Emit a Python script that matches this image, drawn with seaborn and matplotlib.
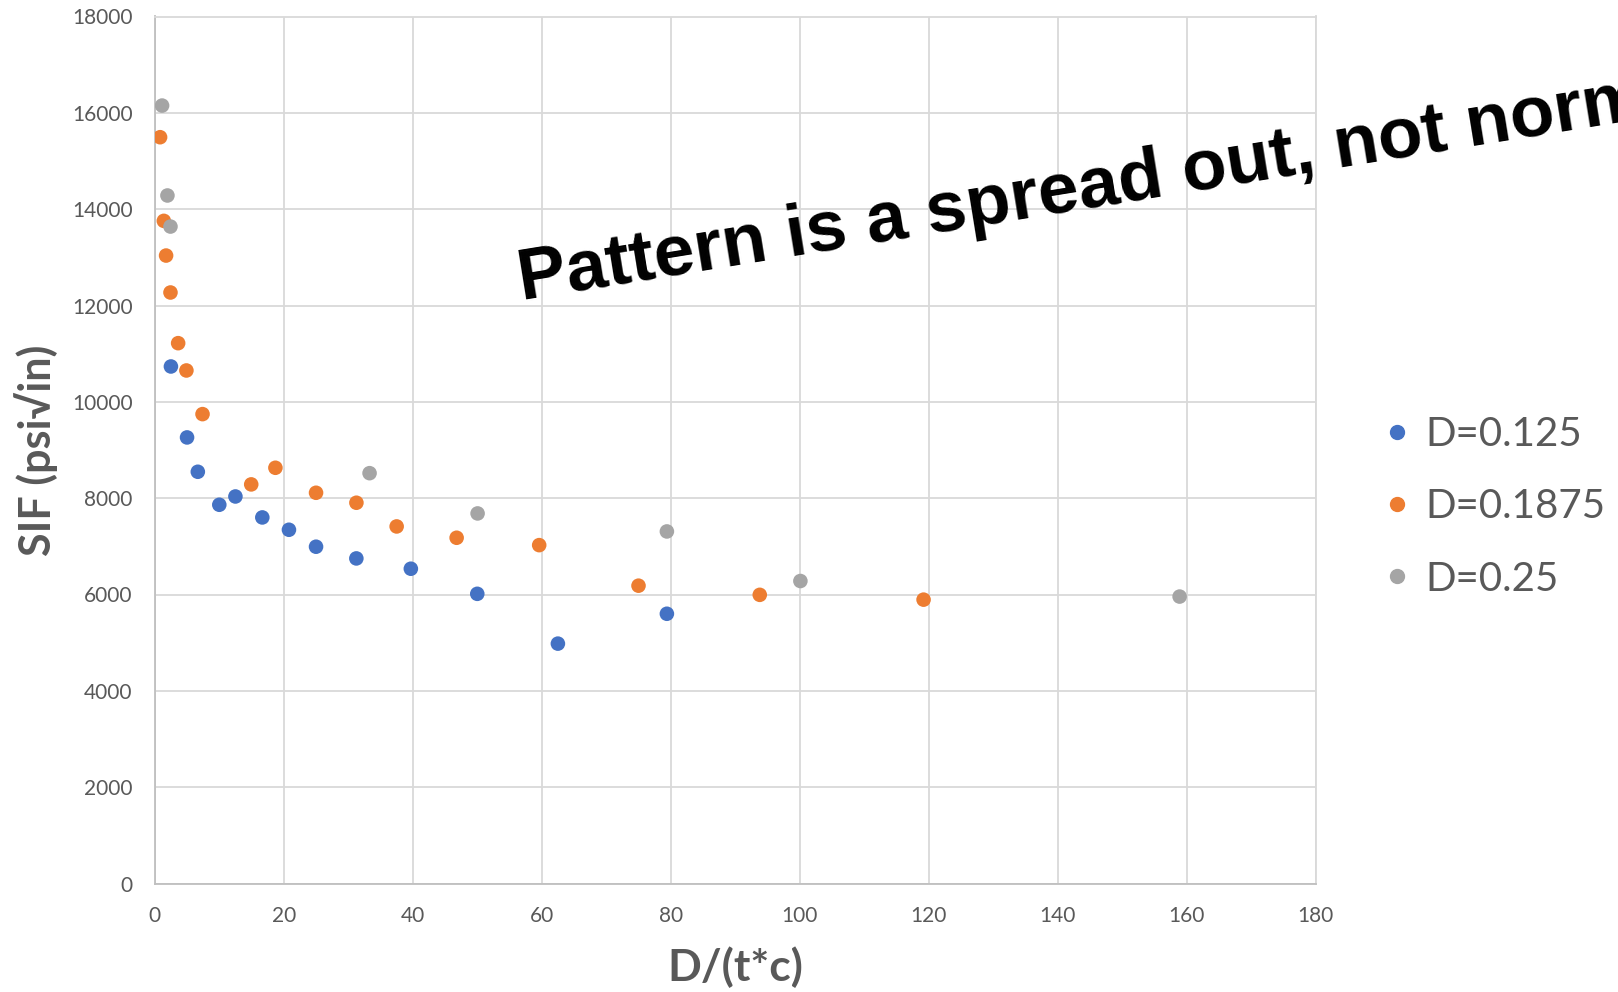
import matplotlib
matplotlib.use("Agg")
import matplotlib.pyplot as plt
import seaborn as sns
import pandas as pd

# D = 0.125
x_0125 = [2.5, 5.0, 6.67, 10.0, 12.5, 16.67, 20.8, 25.0, 31.25, 39.7, 50.0, 62.5, 79.4]
y_0125 = [10734, 9261, 8548, 7863, 8035, 7600, 7344, 6992, 6749, 6535, 6014, 4980, 5600]

# D = 0.1875
x_01875 = [0.82, 1.4, 1.75, 2.43, 3.62, 4.9, 7.4, 14.95, 18.7, 25.0, 31.26, 37.5, 46.8, 59.6, 75.0, 93.8, 119.2]
y_01875 = [15494, 13757, 13037, 12270, 11218, 10651, 9745, 8286, 8631, 8112, 7905, 7413, 7178, 7025, 6183, 5993, 5893]

# D = 0.25
x_025 = [1.13, 1.96, 2.43, 33.3, 50.05, 79.4, 100.1, 158.9]
y_025 = [16151, 14284, 13639, 8519, 7683, 7309, 6280, 5957]

series = ["D=0.125", "D=0.1875", "D=0.25"]
colores = ["#4472C4", "#ED7D31", "#A5A5A5"]

df = pd.concat([
    pd.DataFrame({"x": x_0125, "y": y_0125, "serie": series[0]}),
    pd.DataFrame({"x": x_01875, "y": y_01875, "serie": series[1]}),
    pd.DataFrame({"x": x_025, "y": y_025, "serie": series[2]}),
])

sns.set_style("white")
plt.rcParams["font.family"] = ["Lato", "DejaVu Sans"]

gris = "#595959"

fig = plt.figure(figsize=(16.18, 9.92), dpi=100)
ax = fig.add_axes([154.8 / 1618, 1 - 883.5 / 992, (1315.7 - 154.8) / 1618, (883.5 - 16.5) / 992])

sns.scatterplot(data=df, x="x", y="y", hue="serie", palette=colores,
                s=110, linewidth=0, ax=ax, legend=False, zorder=3)

ax.set_xlim(0, 180)
ax.set_ylim(0, 18000)
ax.set_xticks(range(0, 181, 20))
ax.set_yticks(range(0, 18001, 2000))
ax.grid(True, color="#d9d9d9", linewidth=1.3)
ax.set_axisbelow(True)
for lado in ["top", "right"]:
    ax.spines[lado].set_color("#d9d9d9")
    ax.spines[lado].set_linewidth(1.3)
for lado in ["left", "bottom"]:
    ax.spines[lado].set_color("#bfbfbf")
    ax.spines[lado].set_linewidth(1.3)

ax.tick_params(axis="both", length=0, labelsize=15, labelcolor=gris)
ax.tick_params(axis="x", pad=16)
ax.tick_params(axis="y", pad=16)

ax.set_xlabel("D/(t*c)", fontsize=32, fontweight="bold", color=gris, labelpad=15)
ax.set_ylabel("SIF (psi√in)", fontsize=31, fontweight="bold", color=gris, labelpad=10)

# leyenda
handles = [plt.Line2D([], [], marker="o", linestyle="", color=c, markersize=10) for c in colores]
fig.legend(handles, series, loc="center left", bbox_to_anchor=(1385 / 1618, 1 - 507 / 992),
           frameon=False, fontsize=29, labelcolor=gris, handlelength=0.6,
           handletextpad=0.4, labelspacing=0.87, borderpad=0, borderaxespad=0)

fig.text(522 / 1618, 1 - 300 / 992, "Pattern is a spread out, not normal",
         fontsize=52.5, fontweight="bold", color="black", family="Liberation Sans",
         rotation=9.2, rotation_mode="anchor", ha="left", va="baseline")

fig.savefig("out.png", dpi=100)
